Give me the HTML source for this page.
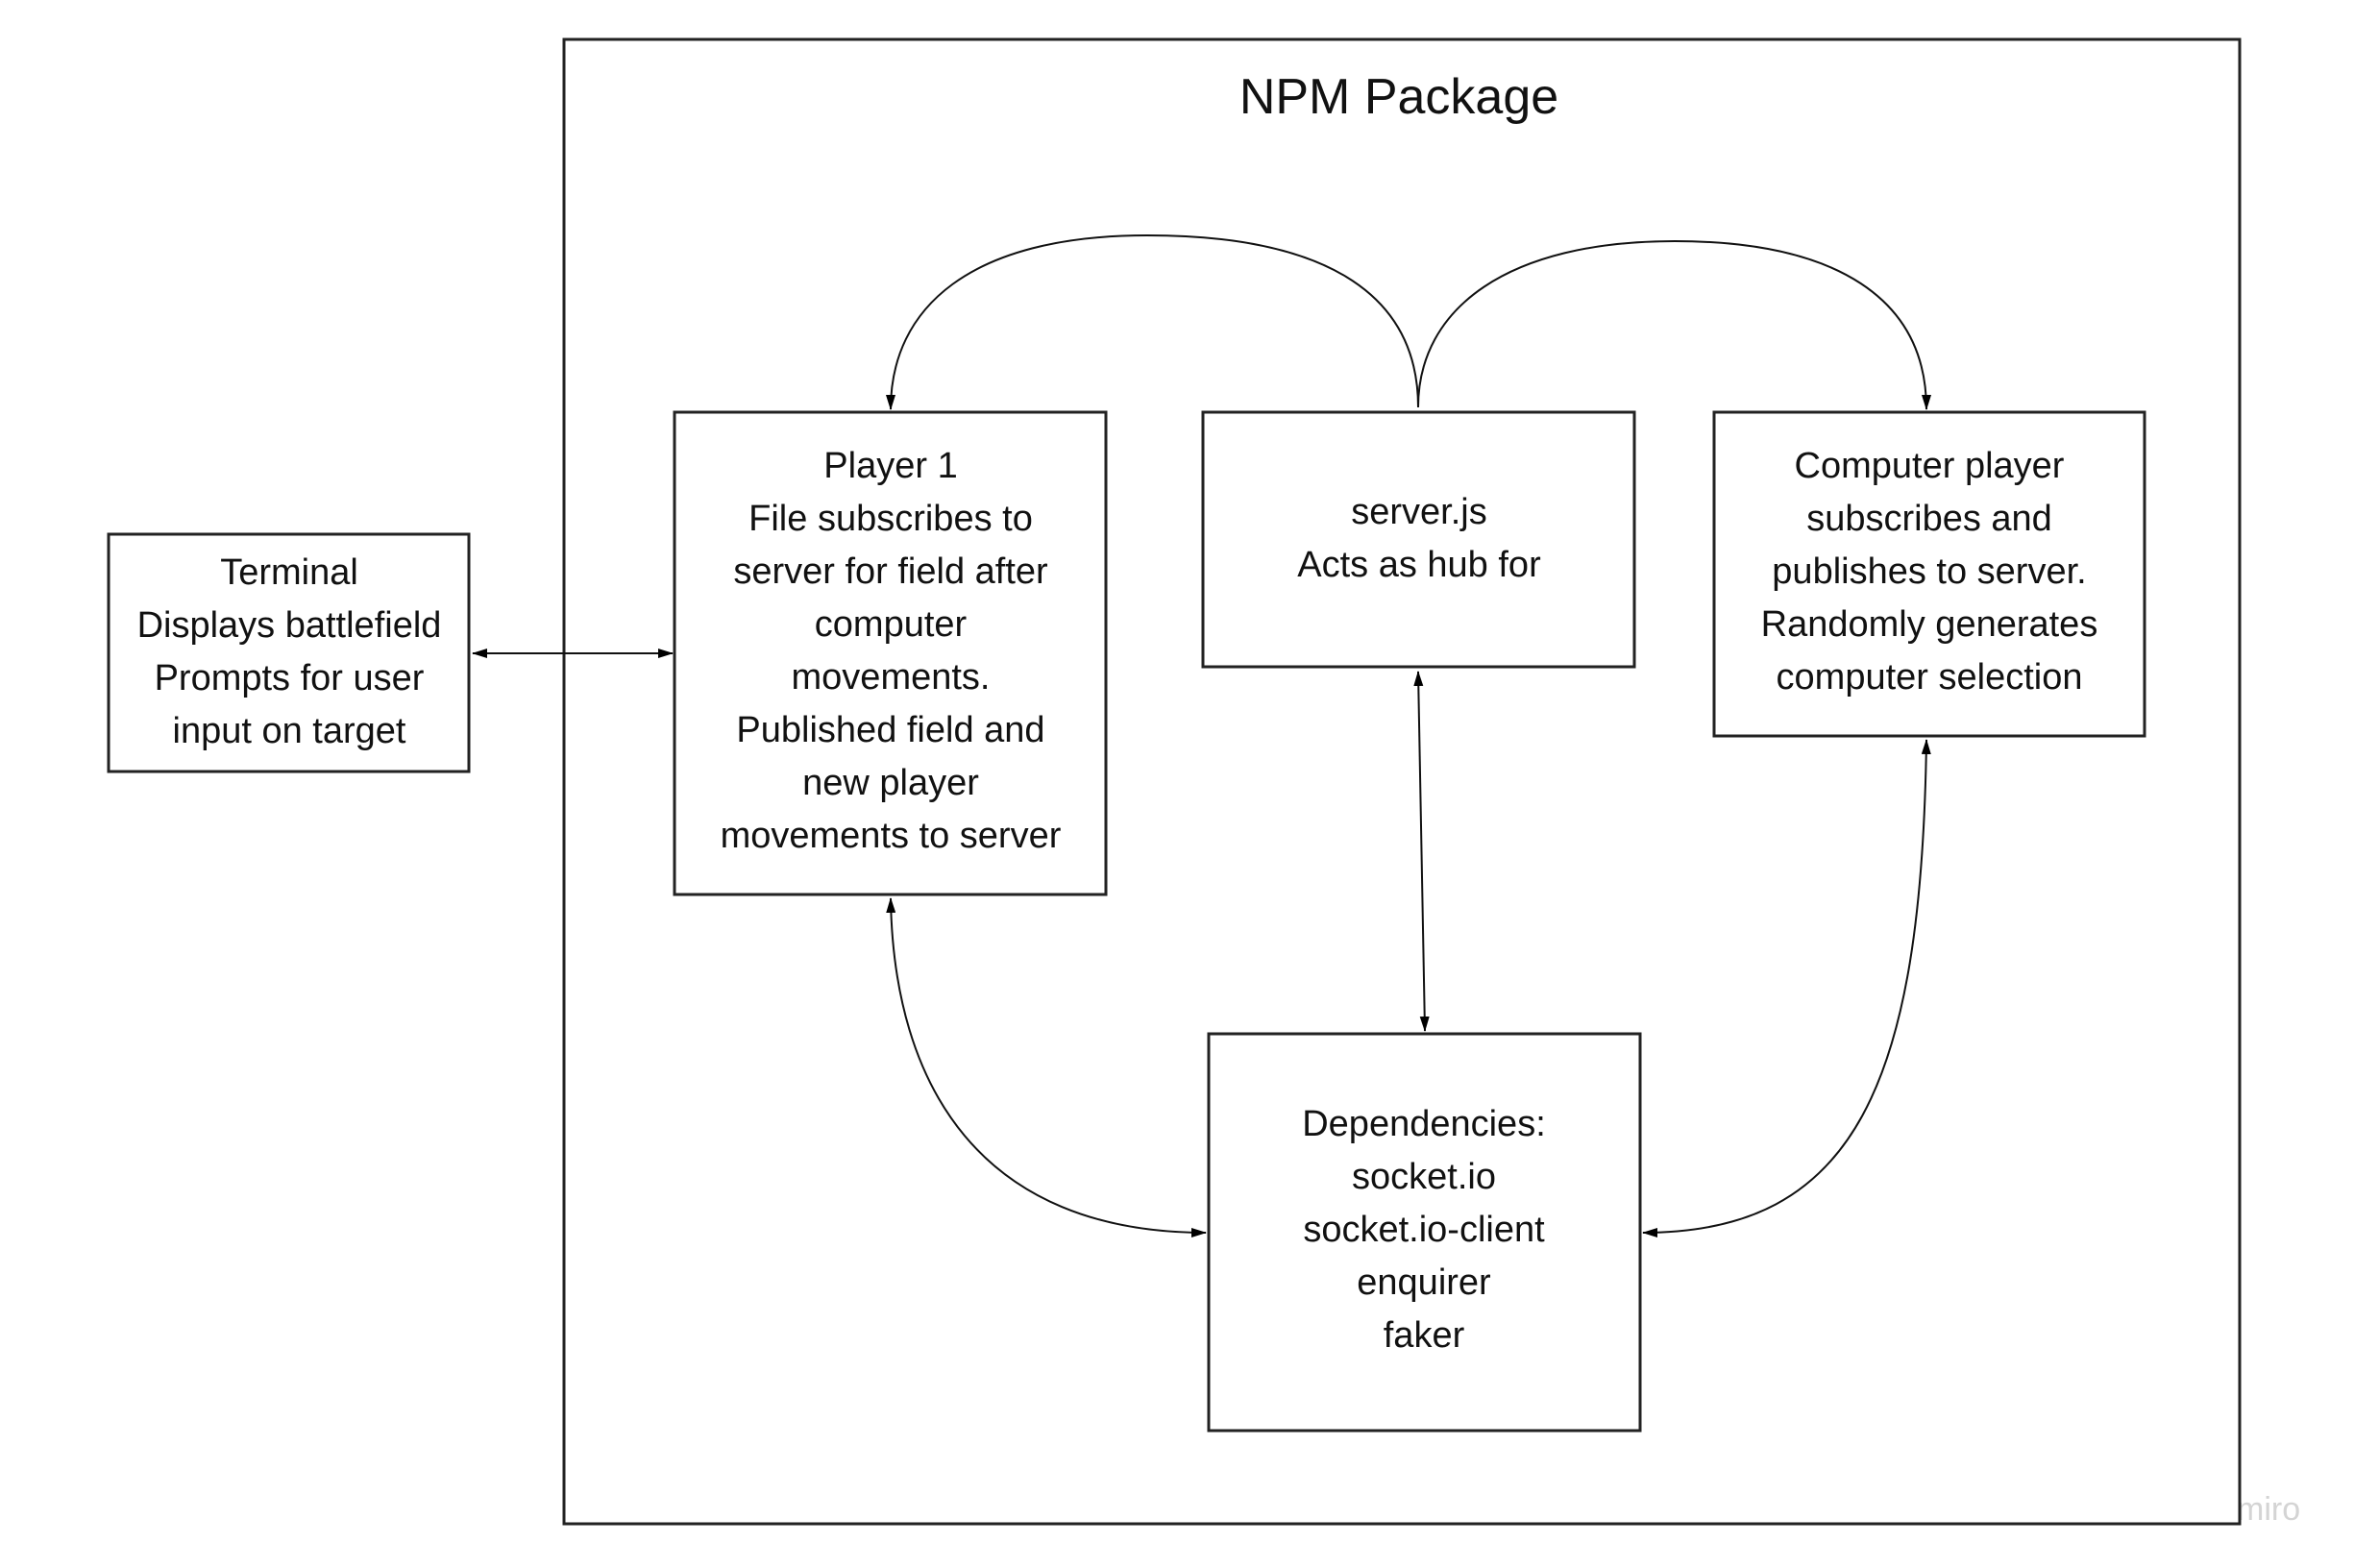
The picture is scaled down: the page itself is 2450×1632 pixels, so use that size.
<!DOCTYPE html>
<html><head><meta charset="utf-8"><style>
html,body{margin:0;padding:0;background:#fff;}
svg{display:block;}
text{font-family:"Liberation Sans",sans-serif;fill:#111;}
</style></head><body>
<svg width="2450" height="1632" viewBox="0 0 2450 1632" xmlns="http://www.w3.org/2000/svg">
<defs>
<marker id="a" markerWidth="16" markerHeight="10" refX="15" refY="5" orient="auto-start-reverse" markerUnits="userSpaceOnUse">
<path d="M0,0 L16,5 L0,10 Z" fill="#000"/></marker>
</defs>
<text x="2328" y="1582" font-size="34" style="fill:#d4d4d4">miro</text>
<g fill="none" stroke="#222" stroke-width="3">
<rect x="587" y="41" width="1744" height="1545"/>
<rect x="113" y="556" width="375" height="247"/>
<rect x="702" y="429" width="449" height="502"/>
<rect x="1252" y="429" width="449" height="265"/>
<rect x="1784" y="429" width="448" height="337"/>
<rect x="1258" y="1076" width="449" height="413"/>
</g>
<g fill="none" stroke="#111" stroke-width="2">
<line x1="492" y1="680" x2="700" y2="680" marker-start="url(#a)" marker-end="url(#a)"/>
<path d="M1476,424 C1476,300 1370,245 1194,245 C1010,245 927,320 927,426" marker-end="url(#a)"/>
<path d="M1476,424 C1476,320 1570,251 1743,251 C1910,251 2005,310 2005,426" marker-end="url(#a)"/>
<line x1="1476" y1="699" x2="1483" y2="1073" marker-start="url(#a)" marker-end="url(#a)"/>
<path d="M927,935 C930,1130 1020,1283 1255,1283" marker-start="url(#a)" marker-end="url(#a)"/>
<path d="M2005,770 C2000,1130 1930,1283 1710,1283" marker-start="url(#a)" marker-end="url(#a)"/>
</g>
<text x="1456" y="118" font-size="52" text-anchor="middle">NPM Package</text>
<g font-size="38" text-anchor="middle">
<text x="301" y="608">Terminal</text>
<text x="301" y="663">Displays battlefield</text>
<text x="301" y="718">Prompts for user</text>
<text x="301" y="773">input on target</text>
<text x="927" y="497">Player 1</text>
<text x="927" y="552">File subscribes to</text>
<text x="927" y="607">server for field after</text>
<text x="927" y="662">computer</text>
<text x="927" y="717">movements.</text>
<text x="927" y="772">Published field and</text>
<text x="927" y="827">new player</text>
<text x="927" y="882">movements to server</text>
<text x="1477" y="545">server.js</text>
<text x="1477" y="600">Acts as hub for</text>
<text x="2008" y="497">Computer player</text>
<text x="2008" y="552">subscribes and</text>
<text x="2008" y="607">publishes to server.</text>
<text x="2008" y="662">Randomly generates</text>
<text x="2008" y="717">computer selection</text>
<text x="1482" y="1182">Dependencies:</text>
<text x="1482" y="1237">socket.io</text>
<text x="1482" y="1292">socket.io-client</text>
<text x="1482" y="1347">enquirer</text>
<text x="1482" y="1402">faker</text>
</g>
</svg>
</body></html>
